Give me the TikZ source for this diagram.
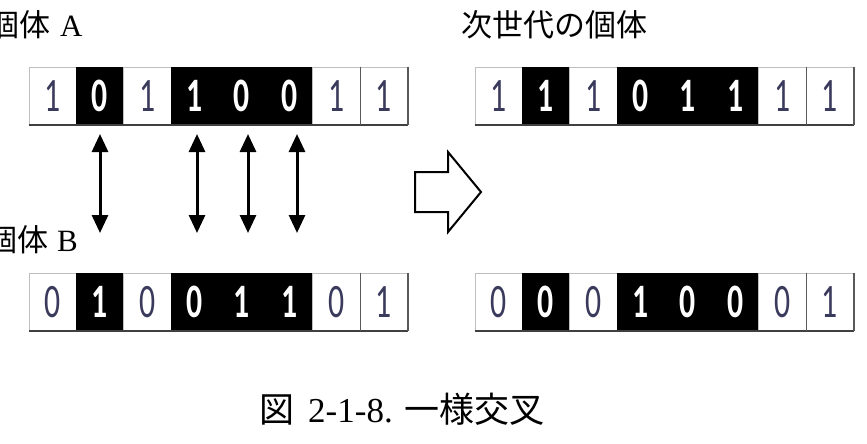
\documentclass[tikz,border=0pt]{standalone}
\usepackage{fontspec}
\setmainfont{Liberation Serif}
\newfontfamily\cjk{Noto Sans CJK JP}
\newfontfamily\dig{Carlito}
\usetikzlibrary{arrows.meta}
\definecolor{digitblue}{HTML}{3A3A5C}
\tikzset{
  cellbase/.style={minimum width=47.3pt, minimum height=58pt, inner sep=0pt, line width=0.8pt},
  whitecell/.style={cellbase, fill=white, draw=black!25, text=digitblue, font=\dig\fontsize{48}{48}\selectfont},
  blackcell/.style={cellbase, fill=black, draw=black, text=white, font=\dig\bfseries\fontsize{48}{48}\selectfont},
  lbl/.style={font=\fontsize{31}{31}\selectfont, inner sep=0pt},
  dbl/.style={line width=3pt, {Triangle[length=18pt,width=16pt]}-{Triangle[length=18pt,width=16pt]}},
  bigarrow/.style={draw=black, line width=2pt, fill=white, line join=miter},
  barline/.style={draw=black!75, line width=2pt},
  sepline/.style={draw=black!65, line width=1.5pt}
}
\newcommand\drawbar[4]{%
  \foreach \b [count=\i from 0] in {#4}{%
    \pgfmathtruncatemacro\isblack{(\i==1||(\i>2&&\i<6))?1:0}%
    \ifnum\isblack=1 \def\st{blackcell}\else\def\st{whitecell}\fi
    \node[\st] (#1\i) at ({#2+\i*47.3+23.65}, {#3+29}) {\scalebox{0.66}[1]{\b}};
  }
  \draw[barline] (#10.south west) -- (#17.south east);
  \draw[sepline] (#16.north east) -- (#16.south east);
  \draw[sepline] (#17.north east) -- (#17.south east);
}
\begin{document}
\begin{tikzpicture}[x=1pt, y=-1pt]
  \useasboundingbox (0,0) rectangle (867,444);
  \begin{scope}
    \clip (0,0) rectangle (867,444);
    \node[lbl, anchor=west] (la) at (-12,25) {{\cjk 個体}\hspace{10pt}A};
    \node[lbl, anchor=west] (lb) at (-14,240) {{\cjk 個体}\hspace{9pt}B};
  \end{scope}
  \node[lbl, anchor=west] (lc) at (461,25) {\cjk 次世代の個体};

  \drawbar{A}{29}{67}{1,0,1,1,0,0,1,1}
  \drawbar{B}{29}{273}{0,1,0,0,1,1,0,1}
  \drawbar{C}{475}{67}{1,1,1,0,1,1,1,1}
  \drawbar{D}{475}{273}{0,0,0,1,0,0,0,1}

  \foreach \x [count=\k] in {100,197,248,297}{
    \coordinate (t\k) at (\x,134);
    \coordinate (b\k) at (\x,233);
    \draw[dbl] (t\k) -- (b\k);
  }

  \draw[bigarrow] (415,172) -- (448,172) -- (448,152) -- (481,192) -- (448,232) -- (448,212) -- (415,212) -- cycle;

  \node[lbl, anchor=west, font=\fontsize{35}{35}\selectfont] (cap) at (259,409) {{\cjk 図}\hspace{14pt}2-1-8.\hspace{12pt}{\cjk 一様交叉}};
\end{tikzpicture}
\end{document}
